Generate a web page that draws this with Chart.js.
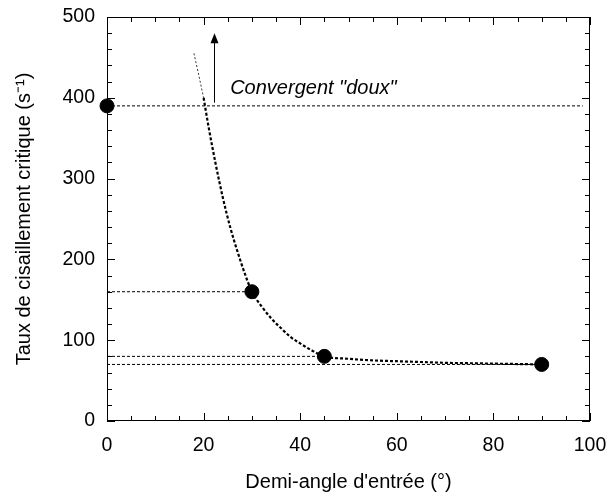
<!DOCTYPE html>
<html>
<head>
<meta charset="utf-8">
<script src="https://cdn.jsdelivr.net/npm/chart.js@4.4.0/dist/chart.umd.min.js"></script>
<style>
  html, body { margin: 0; padding: 0; background: #fff; }
  #wrap { width: 608px; height: 492px; }
</style>
</head>
<body>
<div id="wrap"><canvas id="chart"></canvas></div>
<script>
// mesures
var angles = [0, 30, 45, 90];
var rates = [390, 160, 80, 70];

// courbe d'ajustement
var fitThinX = [18, 19, 20];
var fitThinY = [455, 428, 400];
var fitX = [20, 21, 22.5, 24, 25.5, 27, 28.5, 30, 32, 34, 36, 38, 40, 42.5, 45, 50, 55, 60, 65, 70, 75, 80, 85, 90];
var fitY = [400, 365, 318, 276, 240, 210, 183, 160, 142, 127, 115, 104, 96, 87, 80, 77, 75, 74, 73, 72, 71.5, 71, 70.5, 70];

// lignes horizontales de repere
var refY = [390, 160, 80, 70];
var refEnd = [98.5, 30, 45, 90];

// annotation
var arrowX = 22.2;
var arrowFrom = 394;
var arrowTo = 480;
var noteText = 'Convergent "doux"';
var noteX = 25.5;
var noteY = 405;

function pts(xs, ys) {
  return xs.map(function (x, i) { return { x: x, y: ys[i] }; });
}

var datasets = [];
refY.forEach(function (y, i) {
  datasets.push({
    data: pts([0, refEnd[i]], [y, y]),
    showLine: true,
    borderColor: "#000",
    borderWidth: 1,
    borderDash: [3, 2],
    pointRadius: 0,
  });
});
datasets.push({
  data: pts(fitThinX, fitThinY),
  showLine: true,
  borderColor: "#333",
  borderWidth: 1,
  borderDash: [2, 2],
  pointRadius: 0,
});
datasets.push({
  data: pts(fitX, fitY),
  showLine: true,
  borderColor: "#000",
  borderWidth: 2.2,
  borderDash: [3, 2],
  cubicInterpolationMode: "monotone",
  pointRadius: 0,
});
datasets.push({
  data: pts(angles, rates),
  showLine: false,
  clip: false,
  pointRadius: 7,
  pointBackgroundColor: "#000",
  pointBorderColor: "#000",
});

// cadre, graduations interieures et annotation
var framePlugin = {
  id: "frame",
  beforeDatasetsDraw: function (chart) {
    var c = chart.ctx, a = chart.chartArea;
    var sx = chart.scales.x, sy = chart.scales.y;
    c.save();
    c.strokeStyle = "#000";
    c.lineWidth = 1;
    c.strokeRect(a.left + 0.5, a.top + 0.5, a.right - a.left - 1, a.bottom - a.top - 1);
    c.beginPath();
    for (var v = 0; v <= 100; v += 5) {
      var px = Math.round(sx.getPixelForValue(v)) + 0.5;
      var len = v % 20 === 0 ? 8 : 5;
      c.moveTo(px, a.bottom); c.lineTo(px, a.bottom - len);
      c.moveTo(px, a.top); c.lineTo(px, a.top + len);
    }
    for (var w = 0; w <= 500; w += 20) {
      var py = Math.round(sy.getPixelForValue(w)) + 0.5;
      var l2 = w % 100 === 0 ? 8 : 5;
      c.moveTo(a.left, py); c.lineTo(a.left + l2, py);
      c.moveTo(a.right, py); c.lineTo(a.right - l2, py);
    }
    c.stroke();

    // fleche
    var ax = Math.round(sx.getPixelForValue(arrowX)) + 0.5;
    var y0 = sy.getPixelForValue(arrowFrom), y1 = sy.getPixelForValue(arrowTo);
    c.beginPath();
    c.moveTo(ax, y0); c.lineTo(ax, y1 + 6);
    c.stroke();
    c.beginPath();
    c.moveTo(ax, y1); c.lineTo(ax - 4, y1 + 10); c.lineTo(ax + 4, y1 + 10);
    c.closePath();
    c.fillStyle = "#000";
    c.fill();

    c.font = "italic 20px 'Liberation Sans', Arial, sans-serif";
    c.textBaseline = "alphabetic";
    c.fillText(noteText, sx.getPixelForValue(noteX), sy.getPixelForValue(noteY));
    c.restore();
  },
};

var font = { family: "'Liberation Sans', Arial, sans-serif", size: 19.5 };

new Chart(document.getElementById("chart").getContext("2d"), {
  type: "scatter",
  data: { datasets: datasets },
  options: {
    responsive: true,
    maintainAspectRatio: false,
    animation: false,
    layout: { padding: { left: 0, top: 17, right: 18, bottom: 0 } },
    plugins: { legend: { display: false }, tooltip: { enabled: false } },
    scales: {
      x: {
        type: "linear",
        min: 0,
        max: 100,
        grid: { display: false, drawTicks: false },
        border: { display: false },
        ticks: { stepSize: 20, color: "#000", font: font, padding: 13, maxRotation: 0 },
        title: {
          display: true,
          text: "Demi-angle d'entrée (°)",
          color: "#000",
          font: { family: font.family, size: 20, lineHeight: 1 },
          padding: { top: 6, bottom: 0 },
        },
        afterFit: function (s) {
          s.height = 71;
          s.paddingLeft = 0;
          s.paddingRight = 0;
        },
      },
      y: {
        min: 0,
        max: 500,
        grid: { display: false, drawTicks: false },
        border: { display: false },
        ticks: { stepSize: 100, color: "#000", font: font, padding: 12 },
        title: {
          display: true,
          text: "Taux de cisaillement critique (s⁻¹)",
          color: "#000",
          font: { family: font.family, size: 20, lineHeight: 1 },
          padding: { top: 14, bottom: 0 },
        },
        afterFit: function (s) {
          s.width = 107;
          s.paddingTop = 0;
          s.paddingBottom = 0;
        },
      },
    },
  },
  plugins: [framePlugin],
});
</script>
</body>
</html>
